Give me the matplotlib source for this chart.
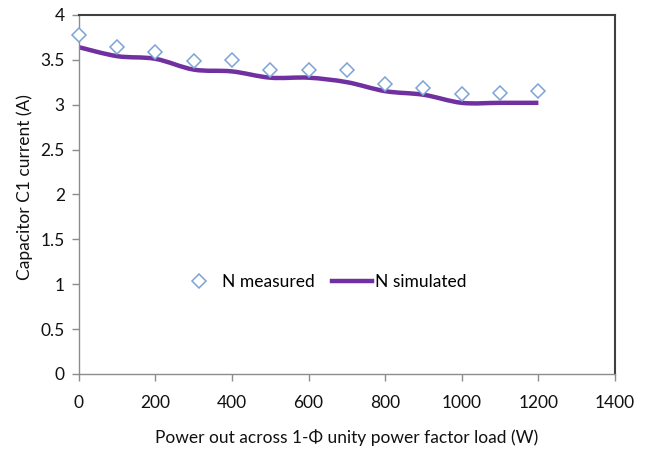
import matplotlib
matplotlib.use("Agg")
import matplotlib.pyplot as plt
from matplotlib.path import Path
from matplotlib.patches import PathPatch
import numpy as np

plt.rcParams["font.family"] = ["Lato", "DejaVu Sans"]

# data
power = [0, 100, 200, 300, 400, 500, 600, 700, 800, 900, 1000, 1100, 1200]
measured = [3.77, 3.64, 3.59, 3.49, 3.50, 3.39, 3.39, 3.39, 3.23, 3.19, 3.12, 3.13, 3.15]
simulated = [3.64, 3.54, 3.51, 3.39, 3.37, 3.30, 3.30, 3.25, 3.15, 3.11, 3.02, 3.02, 3.02]

x_ticks = [0, 200, 400, 600, 800, 1000, 1200, 1400]
y_ticks = [0, 0.5, 1, 1.5, 2, 2.5, 3, 3.5, 4]

purple = "#7030A0"
blue = "#7BA3D6"


def smooth_path(xs, ys, t=1 / 6):
    # Excel-like smoothed line as cubic bezier segments through the points
    pts = np.column_stack([xs, ys]).astype(float)
    verts = [pts[0]]
    codes = [Path.MOVETO]
    n = len(pts)
    for i in range(n - 1):
        p0 = pts[i - 1] if i > 0 else pts[i]
        p1 = pts[i]
        p2 = pts[i + 1]
        p3 = pts[i + 2] if i + 2 < n else pts[i + 1]
        c1 = p1 + (p2 - p0) * t
        c2 = p2 - (p3 - p1) * t
        verts += [c1, c2, p2]
        codes += [Path.CURVE4] * 3
    return Path(verts, codes)


fig = plt.figure(figsize=(6.46, 4.5), dpi=100)
ax = fig.add_axes([0.122, 0.169, 0.830, 0.798])

ax.add_patch(PathPatch(smooth_path(power, simulated), fill=False,
                       edgecolor=purple, lw=3.2, capstyle="butt", zorder=2))
ax.plot([], [], color=purple, lw=3.2, label="N simulated")
ax.plot(power, measured, linestyle="none", marker="D", markersize=7,
        markerfacecolor="white", markeredgecolor=blue, markeredgewidth=1.1,
        label="N measured", zorder=3, clip_on=False)

ax.set_xlim(0, 1400)
ax.set_ylim(0, 4)
ax.set_xticks(x_ticks)
ax.set_yticks(y_ticks)
ax.set_yticklabels(["0", "0.5", "1", "1.5", "2", "2.5", "3", "3.5", "4"])

for s in ["left", "bottom"]:
    ax.spines[s].set_color("#8c8c8c")
    ax.spines[s].set_linewidth(1.0)
for s in ["top", "right"]:
    ax.spines[s].set_color("#404040")
    ax.spines[s].set_linewidth(1.5)

ax.tick_params(axis="both", direction="out", length=5, width=1,
               color="#8c8c8c", labelsize=12.5, labelcolor="#111111", pad=5)
ax.tick_params(axis="x", pad=10)

ax.set_xlabel("Power out across 1-\u03a6 unity power factor load (W)",
              fontsize=12.5, labelpad=13, color="#111111")
ax.set_ylabel("Capacitor C1 current (A)", fontsize=12.5, labelpad=6, color="#111111")
ax.yaxis.set_label_coords(-0.085, 0.52)

handles, labels = ax.get_legend_handles_labels()
ax.legend(handles[::-1], labels[::-1], loc="center", bbox_to_anchor=(0.455, 0.255),
          ncol=2, frameon=False, fontsize=12.5, handlelength=2.3,
          columnspacing=1.0, handletextpad=0.2)

fig.savefig("out.png", dpi=100)
